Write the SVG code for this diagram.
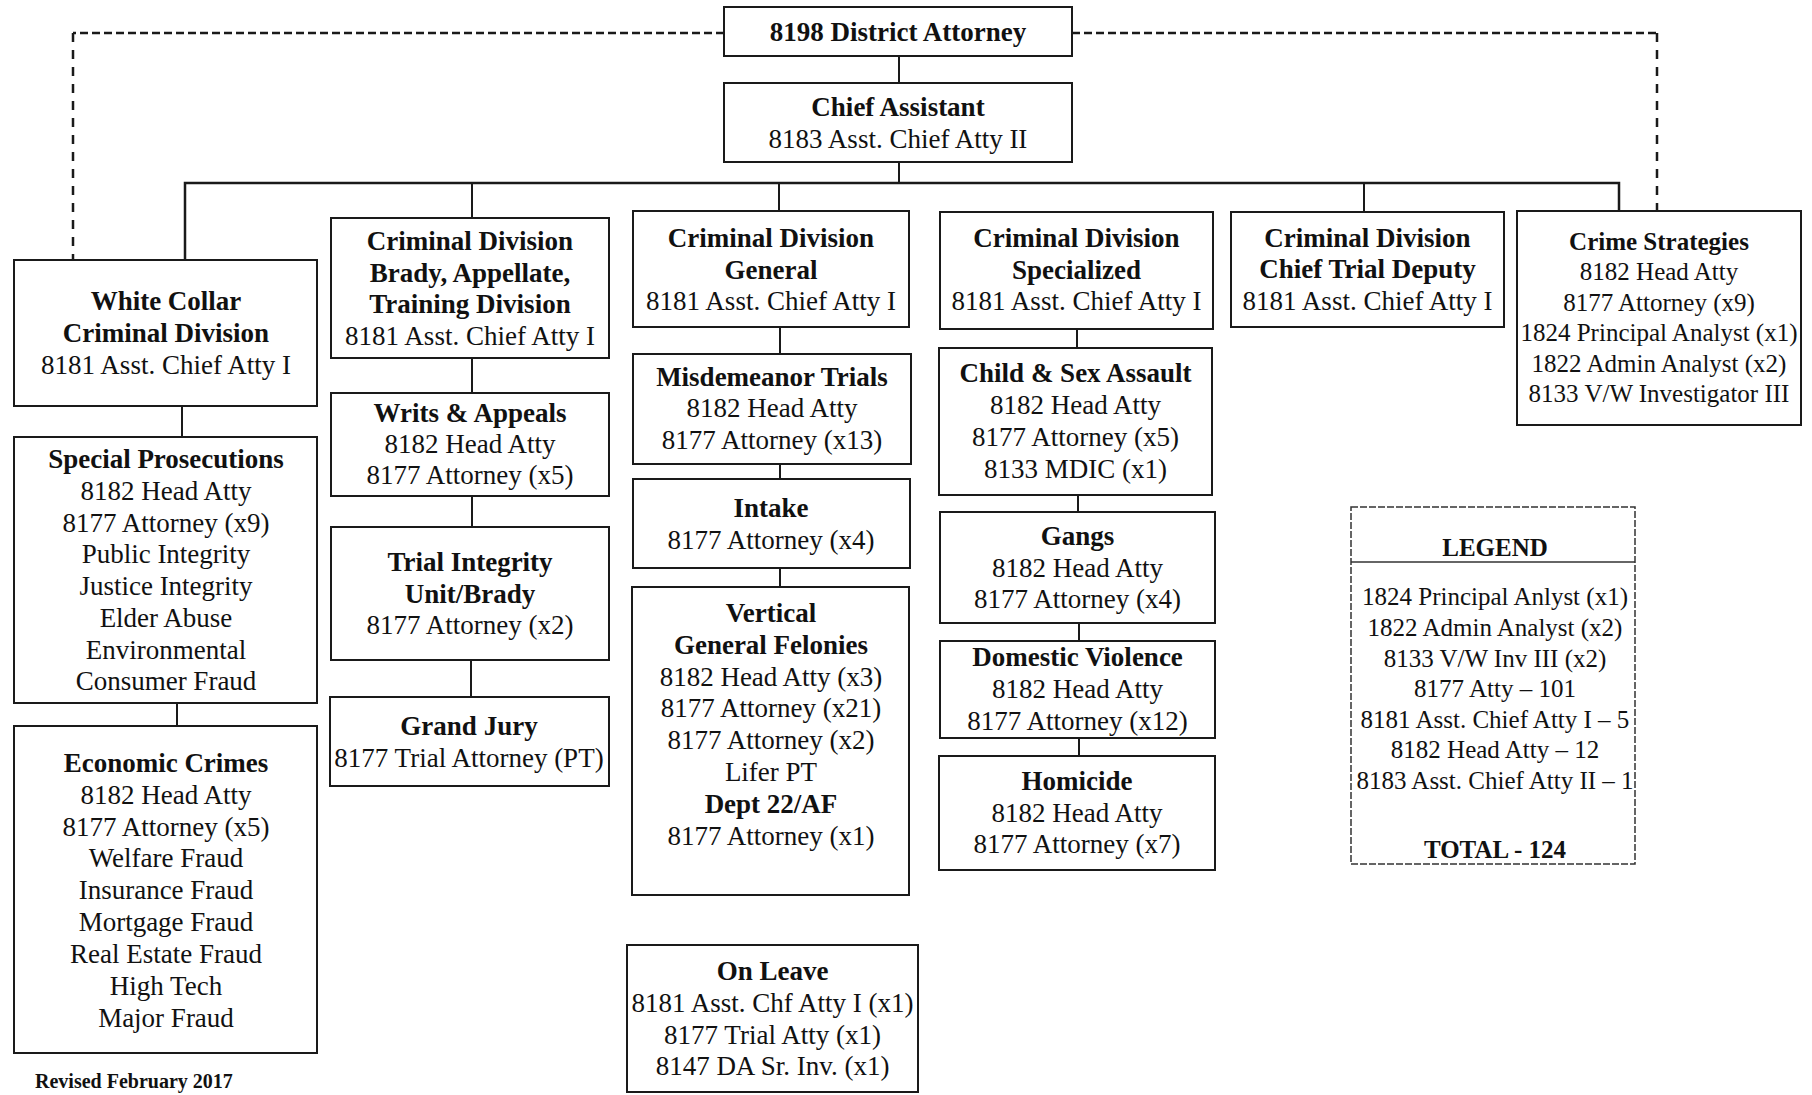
<svg xmlns="http://www.w3.org/2000/svg" width="1812" height="1095" viewBox="0 0 1812 1095">
<style>
  .box { fill: #ffffff; stroke: #1a1a1a; stroke-width: 2; }
  .legend-box { fill: #ffffff; stroke: #333333; stroke-width: 1.5; stroke-dasharray: 7 2; }
  .conn { fill: none; stroke: #1a1a1a; stroke-width: 2; }
  .dashh { fill: none; stroke: #1a1a1a; stroke-width: 2.5; stroke-dasharray: 8 4; }
  .dashv { fill: none; stroke: #1a1a1a; stroke-width: 2.5; stroke-dasharray: 9 8; }
  text { font-family: "Liberation Serif", "Times New Roman", serif; fill: #111111; text-anchor: middle; }
  .r { font-size: 27px; }
  .b { font-size: 27px; font-weight: bold; }
  .rs { font-size: 25px; }
  .bs { font-size: 25px; font-weight: bold; }
</style>

<g id="connectors">
  <polyline class="dashh" points="724,33 73,33"/>
  <polyline class="dashv" points="73,33 73,260"/>
  <polyline class="dashh" points="1072,33 1657,33"/>
  <polyline class="dashv" points="1657,33 1657,211"/>
  <line class="conn" x1="899" y1="56" x2="899" y2="83"/>
  <line class="conn" x1="899" y1="162" x2="899" y2="183"/>
  <polyline class="conn" style="stroke-width:2.5" points="185,260 185,183 1619,183 1619,211"/>
  <line class="conn" x1="472" y1="183" x2="472" y2="218"/>
  <line class="conn" x1="779" y1="183" x2="779" y2="211"/>
  <line class="conn" x1="1364" y1="183" x2="1364" y2="212"/>
  <line class="conn" x1="182" y1="406" x2="182" y2="437"/>
  <line class="conn" x1="177" y1="703" x2="177" y2="726"/>
  <line class="conn" x1="472" y1="358" x2="472" y2="393"/>
  <line class="conn" x1="472" y1="496" x2="472" y2="527"/>
  <line class="conn" x1="471" y1="660" x2="471" y2="697"/>
  <line class="conn" x1="780" y1="327" x2="780" y2="354"/>
  <line class="conn" x1="780" y1="464" x2="780" y2="479"/>
  <line class="conn" x1="780" y1="568" x2="780" y2="587"/>
  <line class="conn" x1="1077" y1="329" x2="1077" y2="348"/>
  <line class="conn" x1="1078" y1="495" x2="1078" y2="512"/>
  <line class="conn" x1="1079" y1="623" x2="1079" y2="641"/>
  <line class="conn" x1="1079" y1="738" x2="1079" y2="756"/>
</g>

<g id="district-attorney">
  <rect class="box" x="724" y="7" width="348" height="49"/>
  <text class="b" x="898" y="41">8198 District Attorney</text>
</g>

<g id="chief-assistant">
  <rect class="box" x="724" y="83" width="348" height="79"/>
  <text class="b" x="898" y="115.5">Chief Assistant</text>
  <text class="r" x="898" y="147.5">8183 Asst. Chief Atty II</text>
</g>

<g id="white-collar">
  <rect class="box" x="14" y="260" width="303" height="146"/>
  <text class="b" x="166" y="310">White Collar</text>
  <text class="b" x="166" y="342">Criminal Division</text>
  <text class="r" x="166" y="374">8181 Asst. Chief Atty I</text>
</g>

<g id="special-prosecutions">
  <rect class="box" x="14" y="437" width="303" height="266"/>
  <text class="b" x="166" y="468">Special Prosecutions</text>
  <text class="r" x="166" y="500">8182 Head Atty</text>
  <text class="r" x="166" y="531.5">8177 Attorney (x9)</text>
  <text class="r" x="166" y="563">Public Integrity</text>
  <text class="r" x="166" y="595">Justice Integrity</text>
  <text class="r" x="166" y="627">Elder Abuse</text>
  <text class="r" x="166" y="658.5">Environmental</text>
  <text class="r" x="166" y="690">Consumer Fraud</text>
</g>

<g id="economic-crimes">
  <rect class="box" x="14" y="726" width="303" height="327"/>
  <text class="b" x="166" y="771.5">Economic Crimes</text>
  <text class="r" x="166" y="803.5">8182 Head Atty</text>
  <text class="r" x="166" y="835.5">8177 Attorney (x5)</text>
  <text class="r" x="166" y="867">Welfare Fraud</text>
  <text class="r" x="166" y="899">Insurance Fraud</text>
  <text class="r" x="166" y="931">Mortgage Fraud</text>
  <text class="r" x="166" y="963">Real Estate Fraud</text>
  <text class="r" x="166" y="995">High Tech</text>
  <text class="r" x="166" y="1026.5">Major Fraud</text>
</g>

<g id="brady-appellate">
  <rect class="box" x="331" y="218" width="278" height="140"/>
  <text class="b" x="470" y="250">Criminal Division</text>
  <text class="b" x="470" y="281.5">Brady, Appellate,</text>
  <text class="b" x="470" y="313">Training Division</text>
  <text class="r" x="470" y="345">8181 Asst. Chief Atty I</text>
</g>

<g id="writs-appeals">
  <rect class="box" x="331" y="393" width="278" height="103"/>
  <text class="b" x="470" y="421.5">Writs &amp; Appeals</text>
  <text class="r" x="470" y="452.5">8182 Head Atty</text>
  <text class="r" x="470" y="484">8177 Attorney (x5)</text>
</g>

<g id="trial-integrity">
  <rect class="box" x="331" y="527" width="278" height="133"/>
  <text class="b" x="470" y="571">Trial Integrity</text>
  <text class="b" x="470" y="602.5">Unit/Brady</text>
  <text class="r" x="470" y="634">8177 Attorney (x2)</text>
</g>

<g id="grand-jury">
  <rect class="box" x="330" y="697" width="279" height="89"/>
  <text class="b" x="469" y="735">Grand Jury</text>
  <text class="r" x="469" y="766.5">8177 Trial Attorney (PT)</text>
</g>

<g id="criminal-general">
  <rect class="box" x="633" y="211" width="276" height="116"/>
  <text class="b" x="771" y="247">Criminal Division</text>
  <text class="b" x="771" y="278.5">General</text>
  <text class="r" x="771" y="310">8181 Asst. Chief Atty I</text>
</g>

<g id="misdemeanor-trials">
  <rect class="box" x="633" y="354" width="278" height="110"/>
  <text class="b" x="772" y="385.5">Misdemeanor Trials</text>
  <text class="r" x="772" y="417">8182 Head Atty</text>
  <text class="r" x="772" y="448.5">8177 Attorney (x13)</text>
</g>

<g id="intake">
  <rect class="box" x="633" y="479" width="277" height="89"/>
  <text class="b" x="771" y="516.5">Intake</text>
  <text class="r" x="771" y="548.5">8177 Attorney (x4)</text>
</g>

<g id="vertical-felonies">
  <rect class="box" x="632" y="587" width="277" height="308"/>
  <text class="b" x="771" y="621.5">Vertical</text>
  <text class="b" x="771" y="653.5">General Felonies</text>
  <text class="r" x="771" y="685.5">8182 Head Atty (x3)</text>
  <text class="r" x="771" y="717">8177 Attorney (x21)</text>
  <text class="r" x="771" y="749">8177 Attorney (x2)</text>
  <text class="r" x="771" y="781">Lifer PT</text>
  <text class="b" x="771" y="813">Dept 22/AF</text>
  <text class="r" x="771" y="845">8177 Attorney (x1)</text>
</g>

<g id="on-leave">
  <rect class="box" x="627" y="945" width="291" height="147"/>
  <text class="b" x="772.5" y="980">On Leave</text>
  <text class="r" x="772.5" y="1011.5">8181 Asst. Chf Atty I (x1)</text>
  <text class="r" x="772.5" y="1043.5">8177 Trial Atty (x1)</text>
  <text class="r" x="772.5" y="1075">8147 DA Sr. Inv. (x1)</text>
</g>

<g id="criminal-specialized">
  <rect class="box" x="940" y="212" width="273" height="117"/>
  <text class="b" x="1076.5" y="247">Criminal Division</text>
  <text class="b" x="1076.5" y="278.5">Specialized</text>
  <text class="r" x="1076.5" y="310">8181 Asst. Chief Atty I</text>
</g>

<g id="child-sex-assault">
  <rect class="box" x="939" y="348" width="273" height="147"/>
  <text class="b" x="1075.5" y="382">Child &amp; Sex Assault</text>
  <text class="r" x="1075.5" y="413.5">8182 Head Atty</text>
  <text class="r" x="1075.5" y="446">8177 Attorney (x5)</text>
  <text class="r" x="1075.5" y="478">8133 MDIC (x1)</text>
</g>

<g id="gangs">
  <rect class="box" x="940" y="512" width="275" height="111"/>
  <text class="b" x="1077.5" y="545">Gangs</text>
  <text class="r" x="1077.5" y="576.5">8182 Head Atty</text>
  <text class="r" x="1077.5" y="608">8177 Attorney (x4)</text>
</g>

<g id="domestic-violence">
  <rect class="box" x="940" y="641" width="275" height="97"/>
  <text class="b" x="1077.5" y="666">Domestic Violence</text>
  <text class="r" x="1077.5" y="698">8182 Head Atty</text>
  <text class="r" x="1077.5" y="730">8177 Attorney (x12)</text>
</g>

<g id="homicide">
  <rect class="box" x="939" y="756" width="276" height="114"/>
  <text class="b" x="1077" y="790">Homicide</text>
  <text class="r" x="1077" y="821.5">8182 Head Atty</text>
  <text class="r" x="1077" y="853">8177 Attorney (x7)</text>
</g>

<g id="chief-trial-deputy">
  <rect class="box" x="1231" y="212" width="273" height="115"/>
  <text class="b" x="1367.5" y="247">Criminal Division</text>
  <text class="b" x="1367.5" y="278">Chief Trial Deputy</text>
  <text class="r" x="1367.5" y="310">8181 Asst. Chief Atty I</text>
</g>

<g id="crime-strategies">
  <rect class="box" x="1517" y="211" width="284" height="214"/>
  <text class="bs" x="1659" y="249.5">Crime Strategies</text>
  <text class="rs" x="1659" y="280">8182 Head Atty</text>
  <text class="rs" x="1659" y="310.5">8177 Attorney (x9)</text>
  <text class="rs" x="1659" y="341">1824 Principal Analyst (x1)</text>
  <text class="rs" x="1659" y="371.5">1822 Admin Analyst (x2)</text>
  <text class="rs" x="1659" y="402">8133 V/W Investigator III</text>
</g>

<g id="legend">
  <rect class="legend-box" x="1351" y="507" width="284" height="357"/>
  <line x1="1351" y1="562" x2="1635" y2="562" stroke="#333333" stroke-width="1.5"/>
  <text class="bs" x="1495" y="556">LEGEND</text>
  <text class="rs" x="1495" y="605">1824 Principal Anlyst (x1)</text>
  <text class="rs" x="1495" y="636">1822 Admin Analyst (x2)</text>
  <text class="rs" x="1495" y="666.5">8133 V/W Inv III (x2)</text>
  <text class="rs" x="1495" y="697">8177 Atty – 101</text>
  <text class="rs" x="1495" y="727.5">8181 Asst. Chief Atty I – 5</text>
  <text class="rs" x="1495" y="758">8182 Head Atty – 12</text>
  <text class="rs" x="1495" y="788.5">8183 Asst. Chief Atty II – 1</text>
  <text class="bs" x="1495" y="858">TOTAL - 124</text>
</g>

<text x="35" y="1088" style="font-size:20px;font-weight:bold;text-anchor:start">Revised February 2017</text>
</svg>
